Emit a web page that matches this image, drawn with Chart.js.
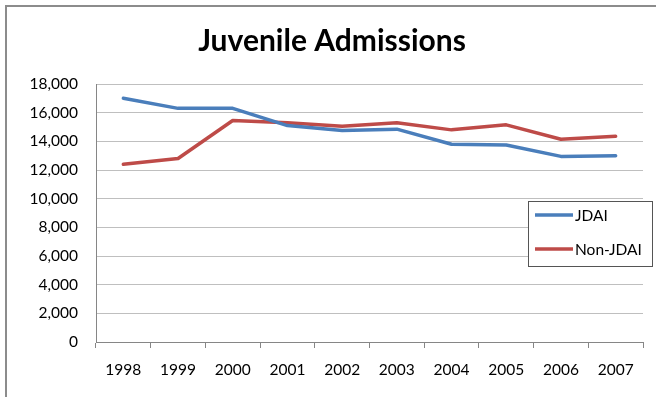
<!DOCTYPE html>
<html>
<head>
<meta charset="utf-8">
<script src="https://cdn.jsdelivr.net/npm/chart.js@4"></script>
<style>
  html, body { margin: 0; padding: 0; background: #fff; }
  #wrap { width: 656px; height: 397px; }
</style>
</head>
<body>
<div id="wrap"><canvas id="admissoes"></canvas></div>
<script>
// dados
const anos = ["1998", "1999", "2000", "2001", "2002", "2003", "2004", "2005", "2006", "2007"];
const jdai = [17000, 16300, 16300, 15100, 14750, 14850, 13800, 13750, 12950, 13000];
const naoJdai = [12400, 12800, 15450, 15300, 15050, 15300, 14800, 15150, 14150, 14350];
const ticksY = [0, 2000, 4000, 6000, 8000, 10000, 12000, 14000, 16000, 18000];

const fonte = "Lato, 'Open Sans', sans-serif";

// moldura cinza em volta do grafico
const moldura = {
  id: "moldura",
  beforeDraw(chart) {
    const ctx = chart.ctx;
    ctx.save();
    ctx.fillStyle = "#fff";
    ctx.fillRect(0, 0, chart.width, chart.height);
    ctx.strokeStyle = "#8c8c8c";
    ctx.lineWidth = 2;
    ctx.strokeRect(6, 6, chart.width + 20, chart.height + 20);
    ctx.restore();
  },
};

// legenda tipo excel, por cima da area do grafico
const legendaCaixa = {
  id: "legendaCaixa",
  afterDraw(chart) {
    const ctx = chart.ctx;
    const x = 528.5, y = 201.5, w = 124, h = 65;
    ctx.save();
    ctx.fillStyle = "#fff";
    ctx.fillRect(x, y, w, h);
    ctx.strokeStyle = "#555";
    ctx.lineWidth = 1;
    ctx.strokeRect(x, y, w, h);
    ctx.font = "15.5px " + fonte;
    ctx.textBaseline = "middle";
    ctx.fillStyle = "#000";
    chart.data.datasets.forEach((ds, i) => {
      const ly = 215 + i * 34;
      ctx.strokeStyle = ds.borderColor;
      ctx.lineWidth = 3.5;
      ctx.beginPath();
      ctx.moveTo(535, ly);
      ctx.lineTo(573, ly);
      ctx.stroke();
      ctx.fillText(ds.label, 575, ly + 1);
    });
    ctx.restore();
  },
};

var ctx = document.getElementById("admissoes").getContext("2d");
var chart = new Chart(ctx, {
  type: "line",
  data: {
    labels: anos,
    datasets: [
      {
        label: "JDAI",
        borderColor: "#4a7ebb",
        backgroundColor: "#4a7ebb",
        data: jdai,
      },
      {
        label: "Non-JDAI",
        borderColor: "#be4b48",
        backgroundColor: "#be4b48",
        data: naoJdai,
      },
    ],
  },
  options: {
    responsive: true,
    maintainAspectRatio: false,
    animation: false,
    layout: { padding: { left: 21, right: 13, top: 0, bottom: 0 } },
    elements: {
      point: { radius: 0, hoverRadius: 0 },
      line: { borderWidth: 3.5, tension: 0, borderJoinStyle: "round", borderCapStyle: "round" },
    },
    plugins: {
      legend: { display: false },
      tooltip: { enabled: false },
      title: {
        display: true,
        text: "Juvenile Admissions",
        color: "#000",
        font: { family: fonte, size: 30, weight: "bold", lineHeight: 1.2 },
        padding: { top: 23, bottom: 25 },
      },
    },
    scales: {
      x: {
        offset: true,
        grid: {
          display: true,
          offset: true,
          drawOnChartArea: false,
          tickLength: 6,
          color: "#868686",
        },
        border: { color: "#868686", width: 1 },
        ticks: {
          color: "#000",
          font: { family: fonte, size: 15.5 },
          padding: 13,
          maxRotation: 0,
          autoSkip: false,
        },
        afterFit(scale) {
          scale.height = 55;
        },
      },
      y: {
        min: 0,
        max: 18000,
        afterBuildTicks(scale) {
          scale.ticks = ticksY.map((v) => ({ value: v }));
        },
        grid: { color: "#bfbfbf", drawTicks: false },
        border: { color: "#868686", width: 1 },
        ticks: {
          color: "#000",
          font: { family: fonte, size: 15.5 },
          padding: 18,
          callback: (v) => Number(v).toLocaleString("en-US"),
        },
        afterFit(scale) {
          scale.width = 75;
        },
      },
    },
  },
  plugins: [moldura, legendaCaixa],
});
</script>
</body>
</html>
